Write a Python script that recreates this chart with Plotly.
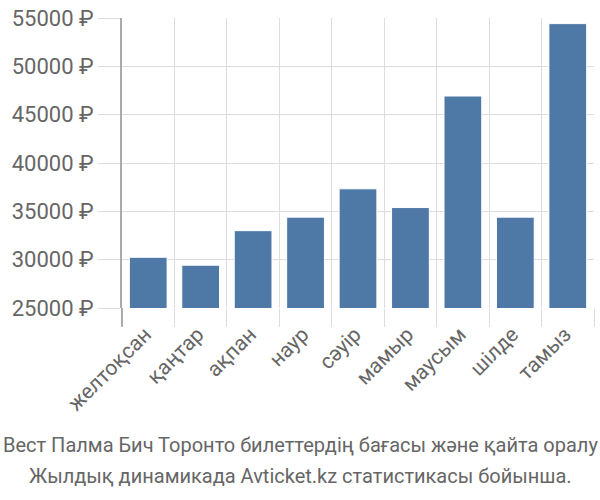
import plotly.graph_objects as go

months = ["желтоқсан", "қаңтар", "ақпан", "наур", "сәуір", "мамыр", "маусым", "шілде", "тамыз"]
prices = [30250, 29430, 33000, 34400, 37330, 35390, 46930, 34400, 54420]
y_ticks = [25000, 30000, 35000, 40000, 45000, 50000, 55000]
y_tick_labels = [f"{v} ₽" for v in y_ticks]
caption_lines = ["Вест Палма Бич Торонто билеттердің бағасы және қайта оралу",
                 "Жылдық динамикада Avticket.kz статистикасы бойынша."]

FONT = "Roboto, sans-serif"

fig = go.Figure(go.Bar(
    x=months, y=prices,
    marker=dict(color="#4e78a6", line=dict(color="white", width=1)),
    width=0.72,
))

L, R, T, B = 122, 6, 14, 192
W, H = 600, 500
ph = H - T - B
pw = W - L - R

fig.update_layout(
    width=W, height=H,
    margin=dict(l=L, r=R, t=T, b=B),
    paper_bgcolor="white", plot_bgcolor="white",
    showlegend=False,
    font=dict(family=FONT, color="#666666"),
)
fig.update_xaxes(
    type="category", tickson="boundaries",
    showgrid=True, gridcolor="#dddddd", gridwidth=1,
    ticks="outside", ticklen=18, tickcolor="#dddddd",
    tickangle=-45, tickfont=dict(size=21, family=FONT, color="#666666"),
    ticklabelstandoff=9, ticklabelshift=-3,
    showline=False, zeroline=False,
)
fig.update_yaxes(
    range=[25000, 55000], tickvals=y_ticks, ticktext=y_tick_labels,
    showgrid=True, gridcolor="#dddddd", gridwidth=1,
    ticks="outside", ticklen=22, tickcolor="#dddddd",
    tickfont=dict(size=22, family=FONT, color="#666666"),
    showline=True, linecolor="#aaaaaa", linewidth=2,
    zeroline=False,
)
fig.add_shape(type="line", xref="paper", yref="paper",
              x0=0, x1=0, y0=0, y1=-19 / ph,
              line=dict(color="#aaaaaa", width=2))
for i, (line, cy) in enumerate(zip(caption_lines, [447, 478])):
    fig.add_annotation(
        text=line, xref="paper", yref="paper",
        x=(300 - L) / pw, y=(T + ph - cy) / ph,
        xanchor="center", yanchor="middle", showarrow=False, align="center",
        font=dict(size=20, family=FONT, color="#666666"),
    )
fig.write_html("out.html")
